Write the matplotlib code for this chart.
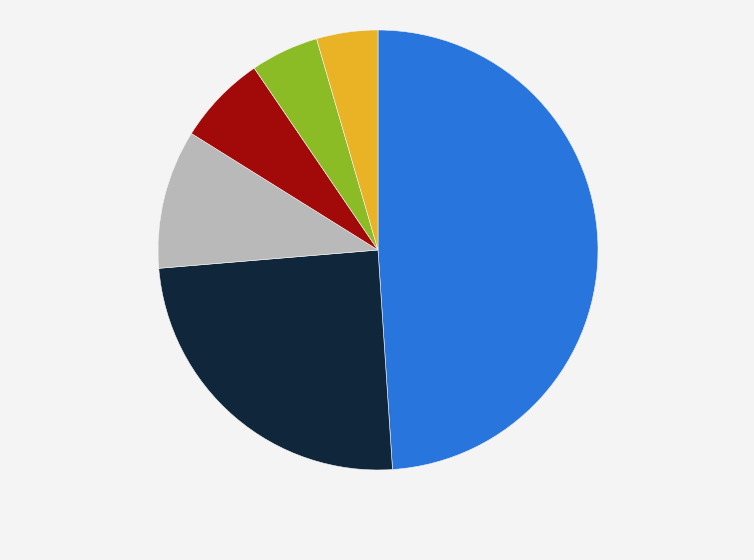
import matplotlib
matplotlib.use("Agg")
import matplotlib.pyplot as plt

categories = ["A", "B", "C", "D", "E", "F"]
values = [48.9, 24.7, 10.2, 6.6, 5.0, 4.5]
colors = ["#2876dd", "#10263b", "#b9b9b9", "#a20a0a", "#8bbb25", "#e9b325"]

fig = plt.figure(figsize=(7.54, 5.6), dpi=100, facecolor="#f4f4f4")
ax = fig.add_axes([(378 - 220) / 754, (310 - 220) / 560, 440 / 754, 440 / 560])
ax.set_facecolor("#f4f4f4")
ax.pie(values, colors=colors, startangle=90, counterclock=False, radius=1,
       wedgeprops=dict(edgecolor="#f4f4f4", linewidth=0.4))
ax.set_xlim(-1, 1)
ax.set_ylim(-1, 1)
ax.set_aspect("equal")
ax.axis("off")
fig.savefig("out.png", dpi=100, facecolor=fig.get_facecolor())
